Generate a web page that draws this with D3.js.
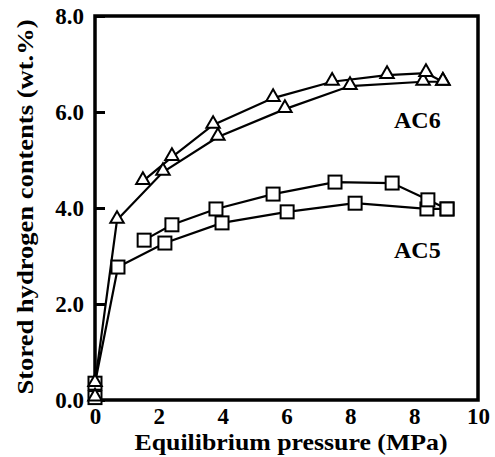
<!DOCTYPE html>
<html>
<head>
<meta charset="utf-8">
<script src="https://cdn.jsdelivr.net/npm/d3@7"></script>
<style>
  body { margin: 0; background: #fff; }
  text { font-family: "Liberation Serif", "Times New Roman", serif; font-weight: bold; }
</style>
</head>
<body>
<script>
// tick labels as printed on the figure
var xTickLabels = ["0", "2", "4", "6", "8", "8", "10"];
var yTicks = [0, 2, 4, 6, 8];

// [pressure, stored H2] (x in axis units, 0..12)
var ac6Ads = [[0, 0.05], [0, 0.35], [0.69, 3.75], [2.13, 4.75], [3.85, 5.48], [5.95, 6.06], [7.99, 6.54], [10.28, 6.63], [10.9, 6.63]];
var ac6Des = [[10.9, 6.63], [10.37, 6.81], [9.15, 6.77], [7.43, 6.63], [5.58, 6.29], [3.70, 5.73], [2.41, 5.06], [1.50, 4.56]];
var ac5Ads = [[0, 0.05], [0, 0.35], [0.72, 2.77], [2.19, 3.27], [3.98, 3.69], [6.02, 3.92], [8.15, 4.10], [10.40, 3.98], [11.03, 3.98]];
var ac5Des = [[11.03, 3.98], [10.43, 4.17], [9.31, 4.52], [7.52, 4.54], [5.58, 4.29], [3.79, 3.98], [2.41, 3.65], [1.54, 3.33]];

var W = 495, H = 457;
var pl = 95, pr = 478, pt = 16, pb = 400;

var svg = d3.select("body").append("svg")
  .attr("width", W)
  .attr("height", H);

var x = d3.scaleLinear().domain([0, 12]).range([pl, pr]);
var y = d3.scaleLinear().domain([0, 8]).range([pb, pt]);

// frame
svg.append("rect")
  .attr("x", pl).attr("y", pt)
  .attr("width", pr - pl).attr("height", pb - pt)
  .attr("fill", "none").attr("stroke", "black").attr("stroke-width", 3.5);

// y axis: inward ticks
var yAxis = d3.axisLeft(y).tickValues(yTicks).tickSize(-10).tickFormat(d3.format(".1f"));
var gy = svg.append("g").attr("transform", "translate(" + pl + ",0)").call(yAxis);
gy.select(".domain").remove();
gy.selectAll(".tick line").attr("stroke", "black").attr("stroke-width", 3);
gy.selectAll(".tick text")
  .attr("x", -11)
  .style("font-size", "23px")
  .style("font-family", "Liberation Serif")
  .style("font-weight", "bold")
  .attr("fill", "black");

// x axis: labels only
var xAxis = d3.axisBottom(x).tickValues(d3.range(0, 13, 2)).tickSize(0)
  .tickFormat(function(d, i) { return xTickLabels[i]; });
var gx = svg.append("g").attr("transform", "translate(0," + pb + ")").call(xAxis);
gx.select(".domain").remove();
gx.selectAll(".tick text")
  .attr("y", 8)
  .style("font-size", "23px")
  .style("font-family", "Liberation Serif")
  .style("font-weight", "bold")
  .attr("fill", "black");

var line = d3.line().x(function(d) { return x(d[0]); }).y(function(d) { return y(d[1]); });

var series = [
  { pts: ac5Ads, mark: "sq" },
  { pts: ac5Des, mark: "sq" },
  { pts: ac6Ads, mark: "tri" },
  { pts: ac6Des, mark: "tri" }
];

series.forEach(function(s) {
  svg.append("path")
    .datum(s.pts)
    .attr("d", line)
    .attr("fill", "none")
    .attr("stroke", "black")
    .attr("stroke-width", 2.2);
});

// squares first so the triangles at the origin stay visible inside them
var tri = d3.symbol().type(d3.symbolTriangle).size(78);
series.forEach(function(s) {
  if (s.mark == "tri") {
    svg.selectAll(null).data(s.pts).enter().append("path")
      .attr("d", tri)
      .attr("transform", function(d) { return "translate(" + x(d[0]) + "," + (y(d[1]) - 1) + ")"; })
      .attr("fill", "white").attr("stroke", "black").attr("stroke-width", 2);
  } else {
    svg.selectAll(null).data(s.pts).enter().append("rect")
      .attr("x", function(d) { return x(d[0]) - 6.5; })
      .attr("y", function(d) { return y(d[1]) - 6.5; })
      .attr("width", 13).attr("height", 13)
      .attr("fill", "white").attr("stroke", "black").attr("stroke-width", 2);
  }
});

// series labels
svg.append("text").attr("x", x(10.1)).attr("y", y(5.67)).attr("text-anchor", "middle")
  .style("font-size", "24px").text("AC6");
svg.append("text").attr("x", x(10.1)).attr("y", y(2.96)).attr("text-anchor", "middle")
  .style("font-size", "24px").text("AC5");

// axis titles
svg.append("text")
  .attr("x", 291).attr("y", 450)
  .attr("text-anchor", "middle")
  .attr("textLength", 313).attr("lengthAdjust", "spacingAndGlyphs")
  .style("font-size", "23px")
  .text("Equilibrium pressure (MPa)");

svg.append("text")
  .attr("transform", "translate(33,207) rotate(-90)")
  .attr("text-anchor", "middle")
  .attr("textLength", 375).attr("lengthAdjust", "spacingAndGlyphs")
  .style("font-size", "23px")
  .text("Stored hydrogen contents (wt.%)");
</script>
</body>
</html>
